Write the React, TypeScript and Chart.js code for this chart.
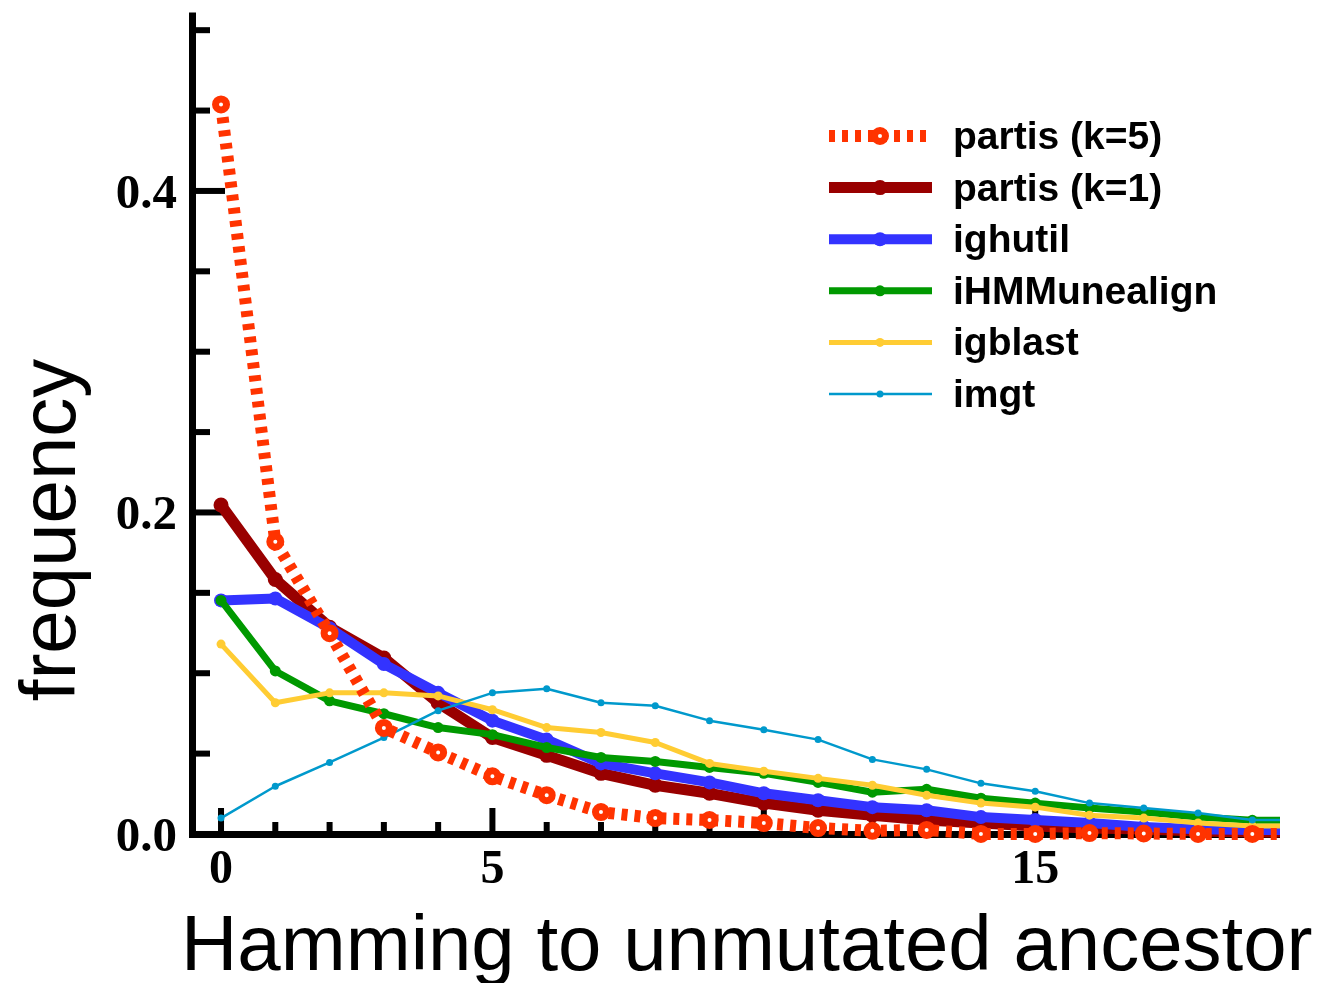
import React, { useEffect, useRef } from "react";
import { Chart, registerables } from "chart.js";

Chart.register(...registerables);

// Hamming distance to unmutated ancestor (x=20 only continues the line to the plot edge)
const HAMMING = [0, 1, 2, 3, 4, 5, 6, 7, 8, 9, 10, 11, 12, 13, 14, 15, 16, 17, 18, 19, 20];

const PARTIS_K5 = [0.4538, 0.1818, 0.1249, 0.066, 0.0507, 0.0359, 0.0241, 0.0136, 0.0099, 0.0087, 0.0068, 0.0037, 0.002, 0.0025, 0.0, 0.0, 0.0006, 0.0003, 0.0, 0.0, 0.0];
const PARTIS_K1 = [0.2046, 0.1583, 0.1286, 0.1094, 0.0816, 0.06, 0.0489, 0.0377, 0.0303, 0.0253, 0.0192, 0.0148, 0.0117, 0.0087, 0.0068, 0.0049, 0.0037, 0.0031, 0.0019, 0.0012, 0.0012];
const IGHUTIL = [0.1453, 0.1465, 0.128, 0.1057, 0.0878, 0.0705, 0.0587, 0.0439, 0.0377, 0.0321, 0.0253, 0.021, 0.0167, 0.0148, 0.0105, 0.0087, 0.0068, 0.0043, 0.003, 0.0025, 0.0025];
const IHMMUNEALIGN = [0.1453, 0.1014, 0.0828, 0.0748, 0.0662, 0.0618, 0.0538, 0.0476, 0.0451, 0.0414, 0.0377, 0.0321, 0.026, 0.0278, 0.0223, 0.0192, 0.0161, 0.0136, 0.0105, 0.0085, 0.0085];
const IGBLAST = [0.1181, 0.0816, 0.0878, 0.0878, 0.0859, 0.0773, 0.0662, 0.0631, 0.0569, 0.0439, 0.039, 0.0346, 0.0303, 0.0241, 0.0192, 0.0167, 0.0117, 0.0099, 0.0068, 0.005, 0.005];
const IMGT = [0.0099, 0.0297, 0.0445, 0.06, 0.0767, 0.0878, 0.0903, 0.0816, 0.0798, 0.0705, 0.0649, 0.0587, 0.0464, 0.0402, 0.0315, 0.0266, 0.0192, 0.0161, 0.013, 0.0087, 0.0087];

const SERIES_NAMES = ["partis (k=5)", "partis (k=1)", "ighutil", "iHMMunealign", "igblast", "imgt"];
const SERIES_COLORS = ["#ff3300", "#990000", "#3333ff", "#009900", "#ffcc33", "#0099cc"];

const Y_TICK_VALUES = [0, 0.05, 0.1, 0.15, 0.2, 0.25, 0.3, 0.35, 0.4, 0.45, 0.5];
const Y_LABEL_VALUES = [0, 0.2, 0.4];
const Y_TICK_LABELS = ["0.0", "0.2", "0.4"];
const X_TICK_VALUES = [0, 1, 2, 3, 4, 5, 6, 7, 8, 9, 10, 11, 12, 13, 14, 15, 16, 17, 18, 19];
const X_MAJOR_VALUES = [0, 5, 10, 15];
const X_LABEL_VALUES = [0, 5, 15];
const X_TICK_LABELS = ["0", "5", "15"];

const X_TITLE = "Hamming to unmutated ancestor";
const Y_TITLE = "frequency";

export default function App() {
  const ref = useRef<HTMLCanvasElement>(null);

  useEffect(() => {
    const canvas = ref.current;
    if (!canvas) return;
    const pts = (vals: number[]) => HAMMING.map((x, i) => ({ x, y: vals[i] }));
    const clip = { left: 30, top: 30, right: 0, bottom: 30 };

    const axesPlugin = {
      id: "customAxes",
      beforeDatasetsDraw(chart: any) {
        const c = chart.ctx;
        const xs = chart.scales.x;
        const ys = chart.scales.y;
        const a = chart.chartArea;
        c.save();
        c.fillStyle = "#000";
        c.fillRect(a.left, a.top, 7, a.bottom - a.top);
        c.fillRect(a.left, a.bottom - 7, a.right - a.left, 7);
        Y_TICK_VALUES.forEach((v) => {
          const py = ys.getPixelForValue(v);
          const major = Y_LABEL_VALUES.some((m) => Math.abs(m - v) < 1e-9);
          const len = major ? 36 : 21;
          c.fillRect(a.left, py - 3, len, 6);
        });
        X_TICK_VALUES.forEach((v) => {
          const px = xs.getPixelForValue(v);
          const major = X_MAJOR_VALUES.includes(v);
          const len = major ? 30 : 16;
          c.fillRect(px - 3, a.bottom - len, 6, len);
        });
        c.font = "bold 49px 'Liberation Serif'";
        c.textAlign = "right";
        c.textBaseline = "alphabetic";
        Y_LABEL_VALUES.forEach((v, i) => {
          c.fillText(Y_TICK_LABELS[i], 177, ys.getPixelForValue(v) + 17);
        });
        c.font = "bold 48px 'Liberation Serif'";
        c.textAlign = "center";
        X_LABEL_VALUES.forEach((v, i) => {
          c.fillText(X_TICK_LABELS[i], xs.getPixelForValue(v), 883);
        });
        c.font = "78px 'Liberation Sans'";
        c.textAlign = "left";
        c.fillText(X_TITLE, 181, 970);
        c.save();
        c.translate(75, 530);
        c.rotate(-Math.PI / 2);
        c.textAlign = "center";
        c.fillText(Y_TITLE, 0, 0);
        c.restore();
        c.restore();
      },
      afterDraw(chart: any) {
        const c = chart.ctx;
        c.save();
        chart.data.datasets.forEach((ds: any, i: number) => {
          const y = 136 + i * 51.6;
          c.strokeStyle = ds.borderColor;
          c.lineWidth = ds.borderWidth;
          c.setLineDash(ds.borderDash || []);
          c.lineCap = "butt";
          c.beginPath();
          c.moveTo(829, y);
          c.lineTo(932, y);
          c.stroke();
          c.setLineDash([]);
          c.beginPath();
          c.arc(880, y, ds.pointRadius, 0, Math.PI * 2);
          c.fillStyle = ds.pointBackgroundColor;
          c.fill();
          if (ds.pointBorderWidth > 0) {
            c.lineWidth = ds.pointBorderWidth;
            c.strokeStyle = ds.pointBorderColor;
            c.stroke();
          }
          c.fillStyle = "#000";
          c.font = "bold 39px 'Liberation Sans'";
          c.textAlign = "left";
          c.textBaseline = "alphabetic";
          c.fillText(ds.label, 953, y + 13);
        });
        c.restore();
      },
    };

    const chart = new Chart(canvas, {
      type: "line",
      data: {
        datasets: [
          {
            label: SERIES_NAMES[0],
            data: pts(PARTIS_K5),
            borderColor: SERIES_COLORS[0],
            borderWidth: 12,
            borderDash: [6, 7],
            borderCapStyle: "butt",
            pointRadius: 5.5,
            pointBorderWidth: 7,
            pointBackgroundColor: "#ffffff",
            pointBorderColor: SERIES_COLORS[0],
            order: 0,
            clip,
          },
          {
            label: SERIES_NAMES[1],
            data: pts(PARTIS_K1),
            borderColor: SERIES_COLORS[1],
            borderWidth: 11,
            borderJoinStyle: "round",
            pointRadius: 7.5,
            pointBorderWidth: 0,
            pointBackgroundColor: SERIES_COLORS[1],
            pointBorderColor: SERIES_COLORS[1],
            order: 5,
            clip,
          },
          {
            label: SERIES_NAMES[2],
            data: pts(IGHUTIL),
            borderColor: SERIES_COLORS[2],
            borderWidth: 10,
            borderJoinStyle: "round",
            pointRadius: 7,
            pointBorderWidth: 0,
            pointBackgroundColor: SERIES_COLORS[2],
            pointBorderColor: SERIES_COLORS[2],
            order: 4,
            clip,
          },
          {
            label: SERIES_NAMES[3],
            data: pts(IHMMUNEALIGN),
            borderColor: SERIES_COLORS[3],
            borderWidth: 7,
            borderJoinStyle: "round",
            pointRadius: 5.5,
            pointBorderWidth: 0,
            pointBackgroundColor: SERIES_COLORS[3],
            pointBorderColor: SERIES_COLORS[3],
            order: 3,
            clip,
          },
          {
            label: SERIES_NAMES[4],
            data: pts(IGBLAST),
            borderColor: SERIES_COLORS[4],
            borderWidth: 5,
            borderJoinStyle: "round",
            pointRadius: 4.5,
            pointBorderWidth: 0,
            pointBackgroundColor: SERIES_COLORS[4],
            pointBorderColor: SERIES_COLORS[4],
            order: 2,
            clip,
          },
          {
            label: SERIES_NAMES[5],
            data: pts(IMGT),
            borderColor: SERIES_COLORS[5],
            borderWidth: 2.5,
            borderJoinStyle: "round",
            pointRadius: 3.5,
            pointBorderWidth: 0,
            pointBackgroundColor: SERIES_COLORS[5],
            pointBorderColor: SERIES_COLORS[5],
            order: 1,
            clip,
          },
        ] as any,
      },
      options: {
        responsive: false,
        maintainAspectRatio: false,
        animation: false,
        events: [],
        layout: { padding: { left: 189, right: 38, top: 8, bottom: 145 } },
        scales: {
          x: { type: "linear", min: -0.59, max: 19.51, display: false },
          y: { type: "linear", min: -0.0025, max: 0.511, display: false },
        },
        plugins: {
          legend: { display: false },
          tooltip: { enabled: false },
        },
      },
      plugins: [axesPlugin],
    });
    return () => chart.destroy();
  }, []);

  return (
    <div style={{ position: "absolute", left: 0, top: 0, width: 1318, height: 983, background: "#fff" }}>
      <canvas ref={ref} width={1318} height={983} style={{ display: "block", width: 1318, height: 983 }} />
    </div>
  );
}
